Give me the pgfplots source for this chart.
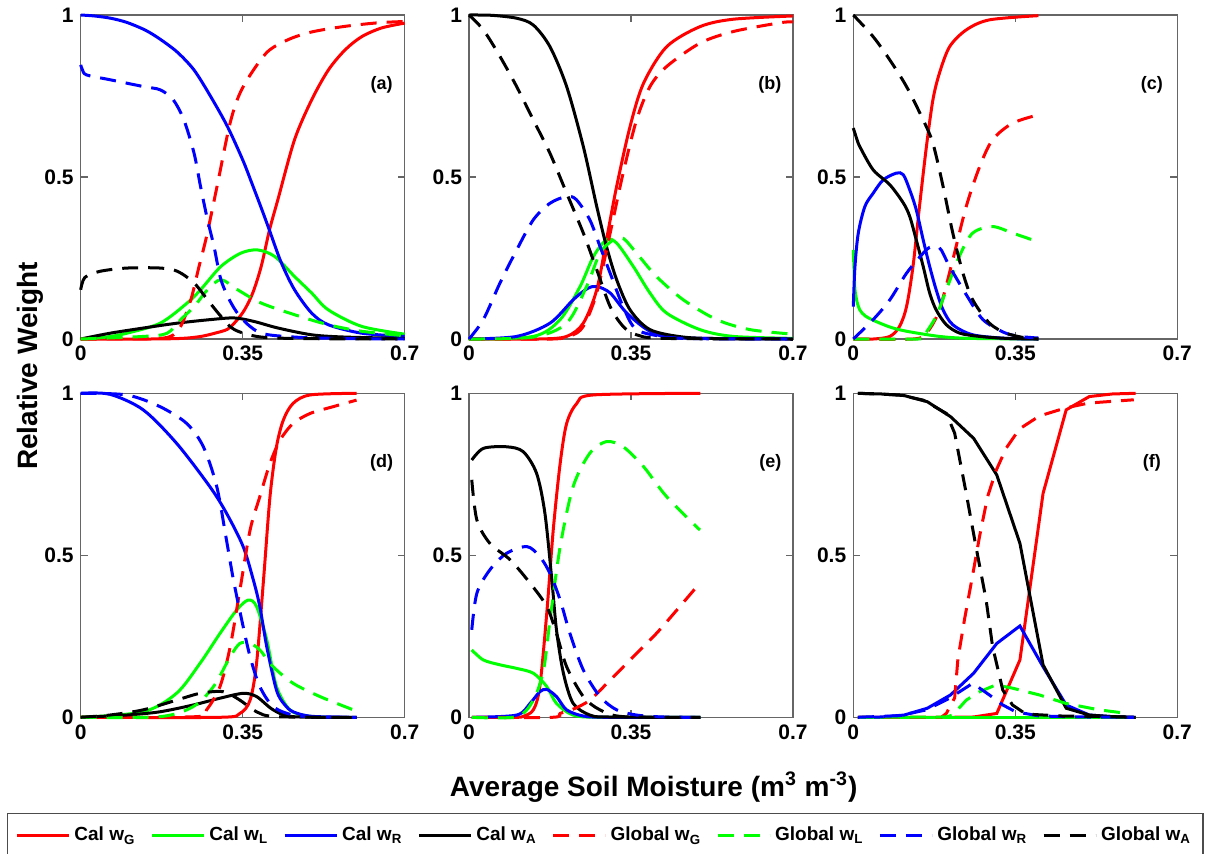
\documentclass[border=0pt]{standalone}
\usepackage{fontspec}
\setmainfont{Liberation Sans}
\usepackage{pgfplots}
\pgfplotsset{compat=1.18}
\pgfplotsset{
 panel/.style={
  scale only axis, width=162pt, height=162pt,
  xmin=0,xmax=0.7,ymin=0,ymax=1,
  xtick={0,0.35,0.7}, xticklabels={0,0.35,0.7},
  ytick={0,0.5,1}, yticklabels={0,0.5,1},
  tick align=inside, major tick length=3.5pt,
  axis line style={black!60, line width=0.6pt},
  tick style={black!60, line width=0.6pt},
  tick label style={font=\fontsize{10.5}{12}\selectfont\bfseries},
  clip=false,
  every axis plot/.append style={line width=1.5pt},
  legend image code/.code={\draw[##1] (0pt,0pt) -- (26pt,0pt);},
 },
 cg/.style={red,solid,smooth}, cl/.style={green,solid,smooth},
 cr/.style={blue,solid,smooth}, ca/.style={black,solid,smooth},
 gg/.style={red,dash pattern=on 8pt off 5pt,smooth}, gl/.style={green,dash pattern=on 8pt off 5pt,smooth},
 gr/.style={blue,dash pattern=on 8pt off 5pt,smooth}, ga/.style={black,dash pattern=on 8pt off 5pt,smooth},
}
\tikzset{plab/.style={font=\fontsize{9}{10}\selectfont\bfseries}}
\begin{document}
\begin{tikzpicture}
% ---------------- (a)
\begin{axis}[panel, at={(40.35pt,-7.5pt)}, anchor=north west,
  ylabel={Relative Weight},
  ylabel style={at={(axis description cs:-0.157,-0.083)}, anchor=center, font=\fontsize{14}{16}\selectfont\bfseries}]
\addplot[cg] coordinates {(0,0) (0.15,0) (0.22,0.002) (0.26,0.008) (0.29,0.018) (0.317,0.03) (0.335,0.054) (0.354,0.09) (0.372,0.143) (0.39,0.224) (0.408,0.337) (0.426,0.43) (0.462,0.615) (0.499,0.738) (0.535,0.83) (0.571,0.892) (0.607,0.933) (0.65,0.96) (0.7,0.975)};
\addplot[cl] coordinates {(0,0) (0.05,0.005) (0.1,0.018) (0.172,0.049) (0.23,0.111) (0.259,0.152) (0.303,0.224) (0.346,0.265) (0.382,0.275) (0.419,0.255) (0.462,0.193) (0.499,0.142) (0.535,0.09) (0.607,0.039) (0.7,0.015)};
\addplot[cr] coordinates {(0,1) (0.03,0.997) (0.065,0.99) (0.1,0.977) (0.14,0.953) (0.172,0.925) (0.209,0.885) (0.245,0.83) (0.281,0.748) (0.317,0.656) (0.35,0.553) (0.37,0.48) (0.39,0.405) (0.408,0.335) (0.433,0.237) (0.462,0.152) (0.499,0.08) (0.535,0.044) (0.607,0.018) (0.7,0.008)};
\addplot[ca] coordinates {(0,0) (0.064,0.018) (0.136,0.034) (0.209,0.049) (0.281,0.06) (0.332,0.065) (0.375,0.054) (0.426,0.034) (0.499,0.013) (0.571,0.006) (0.7,0.002)};
\addplot[gg] coordinates {(0,0) (0.15,0.001) (0.194,0.008) (0.216,0.039) (0.238,0.121) (0.255,0.22) (0.272,0.317) (0.296,0.481) (0.321,0.656) (0.34,0.745) (0.364,0.81) (0.404,0.887) (0.45,0.925) (0.5,0.948) (0.571,0.965) (0.643,0.976) (0.7,0.98)};
\addplot[gl] coordinates {(0,0) (0.136,0.008) (0.187,0.018) (0.216,0.06) (0.245,0.1) (0.274,0.152) (0.303,0.183) (0.339,0.152) (0.39,0.111) (0.462,0.075) (0.535,0.044) (0.607,0.024) (0.7,0.01)};
\addplot[gr] coordinates {(0,0.846) (0.004,0.83) (0.013,0.815) (0.064,0.8) (0.136,0.779) (0.172,0.769) (0.2,0.738) (0.223,0.676) (0.245,0.573) (0.259,0.47) (0.274,0.368) (0.288,0.286) (0.303,0.183) (0.325,0.111) (0.35,0.06) (0.39,0.018) (0.462,0.006) (0.55,0.002) (0.7,0)};
\addplot[ga] coordinates {(0,0.152) (0.009,0.19) (0.042,0.209) (0.1,0.219) (0.172,0.219) (0.209,0.209) (0.245,0.173) (0.274,0.121) (0.303,0.07) (0.332,0.029) (0.39,0.006) (0.5,0.001) (0.7,0)};
\node[plab] at (axis cs:0.65,0.785) {(a)};
\end{axis}
% ---------------- (b)
\begin{axis}[panel, at={(234.5pt,-7.5pt)}, anchor=north west]
\addplot[cg] coordinates {(0,0) (0.15,0) (0.211,0.008) (0.247,0.049) (0.276,0.152) (0.297,0.306) (0.319,0.471) (0.348,0.656) (0.377,0.789) (0.427,0.902) (0.499,0.964) (0.571,0.987) (0.7,0.997)};
\addplot[cl] coordinates {(0,0) (0.139,0.008) (0.197,0.06) (0.24,0.162) (0.269,0.255) (0.297,0.306) (0.319,0.296) (0.355,0.224) (0.391,0.142) (0.427,0.08) (0.499,0.029) (0.571,0.008) (0.7,0.002)};
\addplot[cr] coordinates {(0,0) (0.103,0.008) (0.175,0.049) (0.225,0.121) (0.255,0.155) (0.276,0.162) (0.305,0.142) (0.341,0.08) (0.391,0.024) (0.45,0.004) (0.7,0)};
\addplot[ca] coordinates {(0,1) (0.05,0.999) (0.103,0.99) (0.139,0.969) (0.175,0.902) (0.211,0.779) (0.247,0.594) (0.276,0.409) (0.297,0.286) (0.319,0.183) (0.348,0.09) (0.391,0.029) (0.463,0.006) (0.55,0.001) (0.7,0)};
\addplot[gg] coordinates {(0,0) (0.18,0) (0.22,0.01) (0.247,0.039) (0.276,0.142) (0.305,0.327) (0.333,0.512) (0.362,0.676) (0.391,0.779) (0.427,0.841) (0.499,0.913) (0.571,0.949) (0.672,0.976) (0.7,0.979)};
\addplot[gl] coordinates {(0,0) (0.139,0.006) (0.211,0.049) (0.254,0.162) (0.283,0.265) (0.312,0.306) (0.333,0.311) (0.362,0.265) (0.405,0.193) (0.463,0.121) (0.535,0.06) (0.607,0.029) (0.7,0.015)};
\addplot[gr] coordinates {(0,0) (0.031,0.06) (0.067,0.173) (0.103,0.275) (0.139,0.368) (0.175,0.419) (0.211,0.44) (0.232,0.43) (0.261,0.368) (0.283,0.286) (0.305,0.203) (0.333,0.1) (0.362,0.029) (0.427,0.006) (0.5,0.001) (0.7,0)};
\addplot[ga] coordinates {(0,1) (0.031,0.954) (0.067,0.872) (0.103,0.779) (0.139,0.676) (0.175,0.573) (0.211,0.45) (0.247,0.327) (0.276,0.214) (0.305,0.1) (0.333,0.039) (0.362,0.013) (0.42,0.002) (0.7,0)};
\node[plab] at (axis cs:0.65,0.785) {(b)};
\end{axis}
% ---------------- (c)
\begin{axis}[panel, at={(426.65pt,-7.5pt)}, anchor=north west]
\addplot[cg] coordinates {(0,0) (0.043,0) (0.079,0.008) (0.1,0.039) (0.115,0.1) (0.129,0.224) (0.143,0.409) (0.158,0.594) (0.172,0.738) (0.186,0.82) (0.208,0.902) (0.244,0.954) (0.294,0.985) (0.4,0.998)};
\addplot[cl] coordinates {(0,0.275) (0.002,0.2) (0.0036,0.152) (0.008,0.115) (0.014,0.09) (0.025,0.072) (0.043,0.058) (0.079,0.037) (0.115,0.024) (0.186,0.008) (0.25,0.002) (0.4,0)};
\addplot[cr] coordinates {(0,0.1) (0.0036,0.224) (0.0108,0.327) (0.025,0.409) (0.043,0.45) (0.0645,0.491) (0.093,0.512) (0.108,0.507) (0.122,0.46) (0.136,0.399) (0.151,0.306) (0.165,0.224) (0.179,0.152) (0.194,0.09) (0.215,0.044) (0.258,0.013) (0.33,0.002) (0.4,0)};
\addplot[ca] coordinates {(0,0.651) (0.007,0.62) (0.014,0.594) (0.043,0.522) (0.079,0.476) (0.108,0.42) (0.122,0.378) (0.136,0.306) (0.151,0.224) (0.165,0.142) (0.179,0.09) (0.201,0.044) (0.23,0.018) (0.273,0.008) (0.33,0.002) (0.4,0)};
\addplot[gg] coordinates {(0,0) (0.129,0) (0.158,0.018) (0.186,0.09) (0.215,0.245) (0.244,0.409) (0.273,0.532) (0.301,0.615) (0.344,0.666) (0.4,0.692)};
\addplot[gl] coordinates {(0,0) (0.14,0) (0.151,0.008) (0.179,0.07) (0.201,0.152) (0.229,0.255) (0.258,0.327) (0.301,0.347) (0.344,0.327) (0.387,0.306)};
\addplot[gr] coordinates {(0,0) (0.043,0.06) (0.079,0.121) (0.115,0.203) (0.151,0.265) (0.165,0.283) (0.18,0.285) (0.19,0.275) (0.208,0.224) (0.244,0.137) (0.28,0.06) (0.326,0.02) (0.36,0.008) (0.4,0.003)};
\addplot[ga] coordinates {(0,1) (0.043,0.933) (0.079,0.861) (0.115,0.779) (0.151,0.676) (0.172,0.604) (0.194,0.471) (0.215,0.327) (0.237,0.203) (0.258,0.121) (0.294,0.049) (0.33,0.018) (0.37,0.004) (0.4,0)};
\node[plab] at (axis cs:0.645,0.785) {(c)};
\end{axis}
% ---------------- (d)
\begin{axis}[panel, at={(40.35pt,-196.65pt)}, anchor=north west,
  legend columns=8,
  legend style={at={(axis description cs:-0.228,-0.294)}, anchor=north west,
    draw=black!70, line width=0.6pt, inner xsep=4pt, inner ysep=5pt,
    font=\fontsize{9.5}{11}\selectfont\bfseries,
    /tikz/every even column/.append style={column sep=5.5pt}}]
\addplot[cg] coordinates {(0,0) (0.3,0) (0.344,0.012) (0.366,0.053) (0.38,0.167) (0.395,0.424) (0.409,0.681) (0.423,0.835) (0.438,0.918) (0.459,0.969) (0.496,0.995) (0.596,1)};
\addplot[cl] coordinates {(0,0) (0.135,0.017) (0.207,0.074) (0.258,0.167) (0.301,0.259) (0.337,0.331) (0.362,0.362) (0.38,0.342) (0.402,0.239) (0.423,0.095) (0.452,0.023) (0.49,0.004) (0.531,0)};
\addplot[cr] coordinates {(0,1) (0.063,0.997) (0.135,0.949) (0.207,0.846) (0.279,0.712) (0.315,0.63) (0.351,0.527) (0.373,0.424) (0.387,0.342) (0.402,0.218) (0.423,0.084) (0.44,0.04) (0.459,0.017) (0.5,0.003) (0.596,0)};
\addplot[ca] coordinates {(0,0) (0.099,0.007) (0.171,0.017) (0.243,0.038) (0.301,0.059) (0.351,0.074) (0.38,0.064) (0.416,0.023) (0.459,0.002) (0.596,0)};
\addplot[gg] coordinates {(0,0) (0.25,0.002) (0.272,0.023) (0.301,0.095) (0.323,0.218) (0.344,0.393) (0.366,0.578) (0.387,0.681) (0.409,0.784) (0.431,0.856) (0.459,0.907) (0.496,0.938) (0.546,0.959) (0.596,0.979)};
\addplot[gl] coordinates {(0,0) (0.171,0.002) (0.243,0.033) (0.287,0.095) (0.323,0.187) (0.344,0.228) (0.366,0.228) (0.387,0.208) (0.416,0.156) (0.459,0.105) (0.517,0.064) (0.589,0.023)};
\addplot[gr] coordinates {(0,1) (0.099,0.995) (0.171,0.959) (0.229,0.907) (0.265,0.835) (0.294,0.712) (0.315,0.547) (0.33,0.424) (0.348,0.3) (0.366,0.187) (0.387,0.095) (0.416,0.033) (0.459,0.007) (0.52,0.001) (0.596,0)};
\addplot[ga] coordinates {(0,0) (0.063,0.007) (0.135,0.023) (0.207,0.053) (0.258,0.074) (0.308,0.079) (0.344,0.053) (0.38,0.017) (0.423,0.002) (0.596,0)};
\node[plab] at (axis cs:0.65,0.785) {(d)};
\legend{Cal w\textsubscript{G},Cal w\textsubscript{L},Cal w\textsubscript{R},Cal w\textsubscript{A},Global w\textsubscript{G},Global w\textsubscript{L},Global w\textsubscript{R},Global w\textsubscript{A}}
\end{axis}
% ---------------- (e)
\begin{axis}[panel, at={(234.5pt,-196.65pt)}, anchor=north west,
  xlabel={Average Soil Moisture (m\textsuperscript{3} m\textsuperscript{-3})},
  xlabel style={at={(axis description cs:0.57,-0.215)}, anchor=center, font=\fontsize{14}{16}\selectfont\bfseries}]
\addplot[cg] coordinates {(0.006,0) (0.1,0) (0.117,0.003) (0.139,0.023) (0.153,0.095) (0.168,0.321) (0.182,0.578) (0.197,0.784) (0.211,0.907) (0.233,0.969) (0.269,0.995) (0.5,1)};
\addplot[cl] coordinates {(0.006,0.208) (0.031,0.177) (0.067,0.162) (0.103,0.151) (0.139,0.136) (0.168,0.095) (0.189,0.043) (0.225,0.007) (0.283,0) (0.5,0)};
\addplot[cr] coordinates {(0.006,0) (0.103,0.007) (0.132,0.043) (0.153,0.079) (0.168,0.086) (0.189,0.064) (0.211,0.023) (0.247,0.004) (0.3,0) (0.5,0)};
\addplot[ca] coordinates {(0.006,0.794) (0.031,0.83) (0.081,0.835) (0.117,0.82) (0.146,0.753) (0.164,0.63) (0.179,0.424) (0.189,0.27) (0.204,0.136) (0.225,0.043) (0.261,0.007) (0.3,0.001) (0.5,0)};
\addplot[gg] coordinates {(0.006,0) (0.18,0) (0.197,0.012) (0.225,0.025) (0.261,0.053) (0.305,0.115) (0.355,0.187) (0.405,0.259) (0.449,0.331) (0.492,0.403)};
\addplot[gl] coordinates {(0.006,0) (0.103,0.002) (0.139,0.053) (0.161,0.146) (0.175,0.3) (0.197,0.527) (0.225,0.712) (0.261,0.815) (0.297,0.851) (0.333,0.835) (0.377,0.774) (0.427,0.681) (0.499,0.578)};
\addplot[gr] coordinates {(0.006,0.27) (0.017,0.383) (0.045,0.455) (0.081,0.506) (0.125,0.527) (0.153,0.496) (0.175,0.444) (0.197,0.362) (0.218,0.259) (0.247,0.146) (0.283,0.064) (0.319,0.023) (0.362,0.007) (0.42,0.001) (0.5,0)};
\addplot[ga] coordinates {(0.006,0.733) (0.017,0.609) (0.045,0.537) (0.089,0.486) (0.132,0.414) (0.168,0.342) (0.189,0.259) (0.211,0.156) (0.247,0.064) (0.283,0.023) (0.333,0.002) (0.5,0)};
\node[plab] at (axis cs:0.651,0.785) {(e)};
\end{axis}
% ---------------- (f)
\begin{axis}[panel, at={(426.65pt,-196.65pt)}, anchor=north west]
\addplot[red,solid] coordinates {(0.01,0) (0.06,0) (0.11,0) (0.16,0) (0.21,0) (0.26,0.001) (0.31,0.012) (0.36,0.177) (0.41,0.691) (0.46,0.949) (0.51,0.99) (0.56,0.998) (0.61,1)};
\addplot[green,solid] coordinates {(0.01,0) (0.61,0)};
\addplot[blue,solid] coordinates {(0.01,0) (0.06,0.001) (0.11,0.007) (0.16,0.028) (0.21,0.069) (0.26,0.136) (0.31,0.228) (0.36,0.282) (0.41,0.156) (0.46,0.038) (0.51,0.007) (0.56,0.002) (0.61,0)};
\addplot[black,solid] coordinates {(0.01,1) (0.06,0.998) (0.11,0.993) (0.16,0.974) (0.21,0.928) (0.26,0.861) (0.31,0.748) (0.36,0.537) (0.41,0.162) (0.46,0.028) (0.51,0.007) (0.56,0.002) (0.61,0)};
\addplot[red,dash pattern=on 8pt off 5pt] coordinates {(0.01,0) (0.19,0) (0.201,0.012) (0.219,0.06) (0.226,0.18) (0.24,0.3) (0.258,0.44) (0.273,0.56) (0.29,0.68) (0.308,0.76) (0.33,0.83) (0.359,0.89) (0.402,0.93) (0.459,0.955) (0.509,0.97) (0.606,0.98)};
\addplot[green,dash pattern=on 8pt off 5pt] coordinates {(0.01,0) (0.2,0.001) (0.215,0.007) (0.244,0.053) (0.273,0.079) (0.308,0.1) (0.344,0.09) (0.402,0.069) (0.459,0.043) (0.531,0.023) (0.581,0.014)};
\addplot[blue,dash pattern=on 8pt off 5pt] coordinates {(0.01,0) (0.1,0.005) (0.158,0.023) (0.208,0.059) (0.258,0.105) (0.294,0.069) (0.323,0.038) (0.351,0.017) (0.402,0.004) (0.5,0.001) (0.606,0)};
\addplot[black,dash pattern=on 8pt off 5pt] coordinates {(0.01,1) (0.1,0.995) (0.151,0.979) (0.201,0.938) (0.219,0.877) (0.244,0.691) (0.265,0.527) (0.287,0.362) (0.301,0.218) (0.323,0.084) (0.344,0.038) (0.373,0.01) (0.45,0.004) (0.606,0.001)};
\node[plab] at (axis cs:0.645,0.785) {(f)};
\end{axis}
\pgfresetboundingbox
\path[use as bounding box] (0pt,0pt) rectangle (603.5pt,-426.5pt);
\end{tikzpicture}
\end{document}
